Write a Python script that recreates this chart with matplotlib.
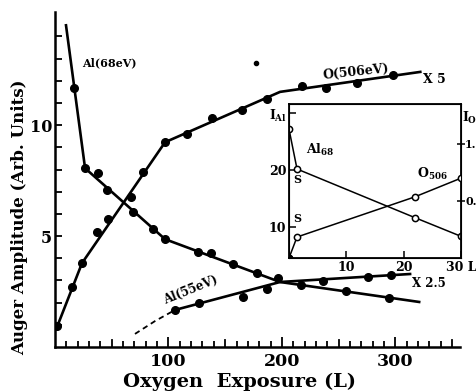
import matplotlib
matplotlib.use("Agg")
import matplotlib.pyplot as plt

plt.rcParams["font.family"] = ["DejaVu Serif"]
plt.rcParams["font.weight"] = "bold"
plt.rcParams["mathtext.fontset"] = "dejavuserif"
plt.rcParams["mathtext.default"] = "bf"

# ---- main panel: Auger amplitude vs oxygen exposure (L) ----
o506_x = [1.8, 15, 23.8, 37, 46.7, 67, 77.6, 97, 116.4, 138.4, 165, 187, 217.8, 239, 266, 298]
o506_y = [0.95, 2.7, 3.8, 5.2, 5.77, 6.76, 7.9, 9.23, 9.6, 10.3, 10.7, 11.2, 11.76, 11.67, 11.9, 12.25]
o506_fit_x = [1, 23.8, 97, 198.4, 322]
o506_fit_y = [0.8, 3.78, 9.23, 11.5, 12.4]

al68_x = [16.8, 26.5, 37.9, 45.9, 68.8, 86.4, 97, 126.1, 137.6, 157, 178.1, 217, 256.6, 294.5]
al68_y = [11.67, 8.06, 7.84, 7.07, 6.08, 5.32, 4.86, 4.28, 4.23, 3.74, 3.33, 2.79, 2.52, 2.21]
al68_fit_x = [9.7, 26.5, 97, 198.4, 321]
al68_fit_y = [14.5, 8.06, 4.86, 2.93, 2.03]

al55_x = [105.8, 127, 165.8, 187, 196.6, 236.3, 276, 296.3]
al55_y = [1.67, 1.98, 2.25, 2.61, 3.11, 2.97, 3.15, 3.24]
al55_fit_x = [105.8, 198.4, 313]
al55_fit_y = [1.67, 2.93, 3.29]
al55_extrap_x = [70.5, 88.2, 105.8]
al55_extrap_y = [0.59, 1.17, 1.67]

stray_x = [177.2]
stray_y = [12.8]

# ---- inset: early exposure (L) ----
inset_x = [0, 1.4, 21.9, 30]
inset_al68 = [27.2, 20.2, 11.7, 8.4]
inset_o506 = [0.0, 0.184, 0.535, 0.70]

W, H = 477, 392
fig = plt.figure(figsize=(W / 100, H / 100), dpi=100)

def fx(px):
    return px / W

def fy(py):
    return 1 - py / H

ax = fig.add_axes([fx(55), fy(347), fx(460) - fx(55), fy(12) - fy(347)])
ax.set_xlim(0, 357)
ax.set_ylim(0, 15.1)
for s in ("top", "right"):
    ax.spines[s].set_visible(False)
for s in ("left", "bottom"):
    ax.spines[s].set_linewidth(1.8)

ax.set_xticks([100, 200, 300])
ax.set_xticklabels(["100", "200", "300"])
ax.set_xticks([v for v in range(10, 360, 10) if v % 50 != 0], minor=True)
ax.set_yticks([5, 10])
ax.set_yticks([v for v in range(1, 15) if v not in (5, 10)], minor=True)
ax.tick_params(axis="both", which="both", direction="in", width=1.3, labelsize=12.5)
ax.tick_params(axis="y", which="major", labelsize=11.5)
ax.tick_params(axis="x", which="major", length=7, pad=4)
ax.tick_params(axis="x", which="minor", length=4)
ax.tick_params(axis="y", which="major", length=5, pad=2)
ax.tick_params(axis="y", which="minor", length=5)
# longer ticks at every 50 L
for v in (50, 150, 250, 350):
    ax.plot([v, v], [0, 0.3], color="black", lw=1.3, clip_on=False)

lw = 1.9
ms = 5.5
ax.plot(o506_fit_x, o506_fit_y, color="black", lw=lw)
ax.plot(o506_x, o506_y, "o", color="black", ms=ms)
ax.plot(al68_fit_x, al68_fit_y, color="black", lw=lw)
ax.plot(al68_x, al68_y, "o", color="black", ms=ms)
ax.plot(al55_fit_x, al55_fit_y, color="black", lw=lw)
ax.plot(al55_x, al55_y, "o", color="black", ms=ms)
ax.plot(al55_extrap_x, al55_extrap_y, color="black", lw=1.3, ls=(0, (3, 2.2)))
ax.plot(stray_x, stray_y, "o", color="black", ms=3)

ax.text(24, 12.8, "Al(68eV)", fontsize=8, ha="left", va="center")
ax.text(265, 12.4, "O(506eV)", fontsize=9, ha="center", va="center", rotation=6)
ax.text(324, 12.05, "X 5", fontsize=9, ha="left", va="center")
ax.text(120, 2.55, "Al(55eV)", fontsize=8.5, ha="center", va="center", rotation=22)
ax.text(315, 2.88, "X 2.5", fontsize=8.5, ha="left", va="center")

fig.text(fx(20), fy(217), "Auger Amplitude (Arb. Units)", rotation=90,
         ha="center", va="center", fontsize=12)
fig.text(fx(240), fy(382), "Oxygen  Exposure (L)", ha="center", va="center", fontsize=14)

# ---- inset ----
axi = fig.add_axes([fx(289), fy(258), fx(461) - fx(289), fy(104) - fy(258)])
axi.set_xlim(0, 30)
axi.set_ylim(4.6, 31.6)
for s in axi.spines.values():
    s.set_linewidth(1.3)
axi.set_xticks([10, 20, 30])
axi.set_xticklabels(["10", "20", "30 L"])
axi.set_yticks([10, 20, 30])
axi.set_yticklabels(["10", "20", ""])
axi.tick_params(axis="both", direction="in", length=5, width=1.1, labelsize=9, pad=2)

axr = axi.twinx()
axr.set_ylim(0, 1.35)
axr.set_yticks([0.5, 1.0])
axr.set_yticklabels(["0.5", "1.0"])
axr.tick_params(axis="y", direction="inout", length=6, width=1.1, labelsize=8, pad=0)

mk = dict(marker="o", ms=4.5, mfc="white", mec="black", mew=1.1)
axi.plot(inset_x, inset_al68, color="black", lw=1.1, **mk)
axr.plot(inset_x, inset_o506, color="black", lw=1.1, **mk)
axr.plot(inset_x[:1], inset_o506[:1], "o", color="black", ms=4.5)

axi.text(3.0, 23.5, r"Al$_{68}$", fontsize=9, ha="left", va="center")
axi.text(1.4, 18.3, "S", fontsize=8, ha="center", va="center")
axi.text(1.4, 11.5, "S", fontsize=8, ha="center", va="center")
axr.text(22.3, 0.74, r"O$_{506}$", fontsize=9, ha="left", va="center")

fig.text(fx(278), fy(116), r"I$_{\rm Al}$", fontsize=9, ha="center", va="center")
fig.text(fx(470), fy(118), r"I$_{\rm O}$", fontsize=9, ha="center", va="center")

fig.savefig("out.png", dpi=100)
